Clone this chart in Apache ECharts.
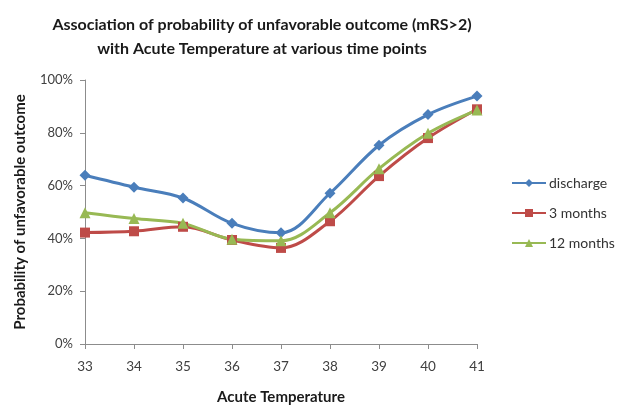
<!DOCTYPE html>
<html><head><meta charset="utf-8">
<script src="https://cdn.jsdelivr.net/npm/echarts@6/dist/echarts.min.js"></script>
<style>html,body{margin:0;padding:0;background:#fff}#c{width:626px;height:407px}</style>
</head><body><div id="c"></div>
<script>
const categories = ['33','34','35','36','37','38','39','40','41'];
const discharge = [63.9, 59.4, 55.3, 45.7, 42.1, 57.1, 75.3, 86.9, 93.9];
const months3 = [42.2, 42.7, 44.4, 39.4, 36.4, 46.5, 63.6, 78.0, 88.9];
const months12 = [49.7, 47.5, 45.7, 39.7, 39.1, 49.7, 66.4, 79.8, 88.6];
const yTicks = [0, 20, 40, 60, 80, 100];

const FONT = 'Lato, "Open Sans", sans-serif';
const chart = echarts.init(document.getElementById('c'));
function ser(name, data, color, symbol, size) {
  return {
    name, type: 'line', data, smooth: 0.35,
    symbol, symbolSize: size,
    itemStyle: { color },
    lineStyle: { color, width: 3 }
  };
}
chart.setOption({
  animation: false,
  title: {
    text: 'Association of probability of unfavorable outcome (mRS>2)\nwith Acute Temperature at various time points',
    left: 257, textAlign: 'center', top: 8,
    textStyle: { fontFamily: FONT, fontSize: 16, fontWeight: 'bold', color: '#1a1a1a', lineHeight: 24 }
  },
  legend: {
    orient: 'vertical', left: 506, top: 171, itemGap: 16,
    itemWidth: 34, itemHeight: 10,
    textStyle: { fontFamily: FONT, fontSize: 14, color: '#333', padding: [0, 0, 0, -2] },
    data: ['discharge', '3 months', '12 months']
  },
  grid: { left: 85, right: 149, top: 80, bottom: 63, containLabel: false, outerBoundsMode: 'none' },
  xAxis: {
    type: 'category', data: categories, boundaryGap: false,
    name: 'Acute Temperature', nameLocation: 'middle', nameGap: 46,
    nameTextStyle: { fontFamily: FONT, fontSize: 15, fontWeight: 'bold', color: '#1a1a1a' },
    axisLine: { lineStyle: { color: '#8c8c8c' } },
    axisTick: { alignWithLabel: true, length: 5, lineStyle: { color: '#8c8c8c' } },
    axisLabel: { fontFamily: FONT, fontSize: 13.5, color: '#404040', margin: 16 },
    splitLine: { show: false }
  },
  yAxis: {
    type: 'value', min: yTicks[0], max: yTicks[yTicks.length - 1], interval: 20,
    name: 'Probability of unfavorable outcome', nameLocation: 'middle', nameGap: 57,
    nameTextStyle: { fontFamily: FONT, fontSize: 15, fontWeight: 'bold', color: '#1a1a1a' },
    axisLine: { show: true, lineStyle: { color: '#8c8c8c' } },
    axisTick: { show: true, length: 5, lineStyle: { color: '#8c8c8c' } },
    axisLabel: { fontFamily: FONT, fontSize: 13, color: '#404040', margin: 12, formatter: v => v + '%' },
    splitLine: { show: false }
  },
  series: [
    ser('discharge', discharge, '#4A7EBB', 'diamond', 11),
    ser('3 months', months3, '#BE4B48', 'rect', 10),
    ser('12 months', months12, '#98B954', 'triangle', 11)
  ]
});
</script></body></html>
